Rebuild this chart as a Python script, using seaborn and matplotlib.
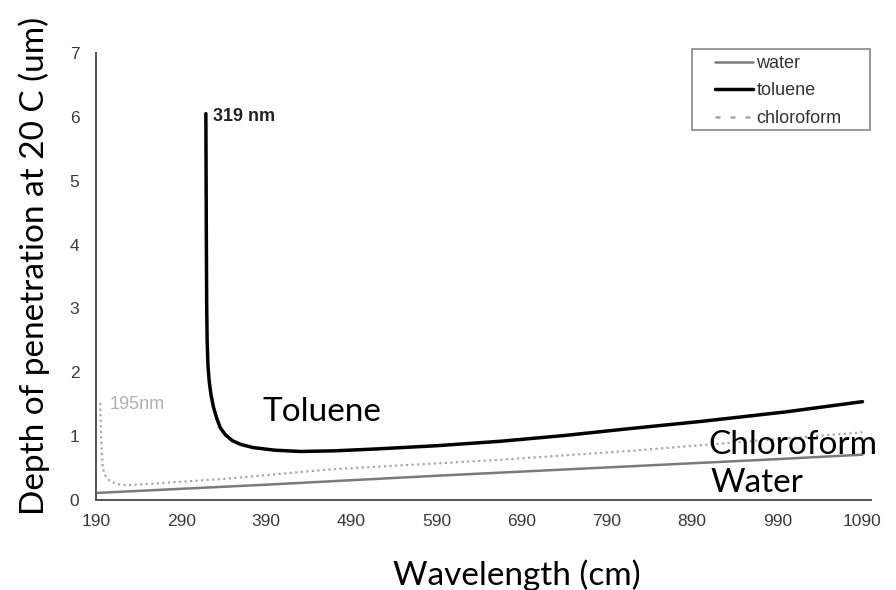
import matplotlib
matplotlib.use("Agg")
import matplotlib.pyplot as plt
import seaborn as sns
import pandas as pd
from matplotlib.patches import Rectangle
from matplotlib.lines import Line2D

# ---- data ----
water_x = [190, 390, 590, 790, 990, 1090]
water_y = [0.11, 0.24, 0.38, 0.51, 0.64, 0.71]

toluene_x = [319, 319.3, 319.6, 320, 320.5, 321.5, 323, 325, 328, 332, 336, 342,
             350, 360, 375, 400, 430, 470, 520, 590, 665, 740, 818, 900, 1000, 1090]
toluene_y = [6.05, 5.0, 4.0, 3.0, 2.5, 2.1, 1.85, 1.65, 1.45, 1.27, 1.13, 1.02,
             0.93, 0.87, 0.82, 0.78, 0.76, 0.77, 0.80, 0.85, 0.92, 1.01, 1.12,
             1.23, 1.38, 1.54]

chloro_x = [195, 196, 197, 198, 201, 206, 215, 225, 260, 340, 465, 665, 818, 1090]
chloro_y = [1.52, 1.0, 0.7, 0.5, 0.38, 0.3, 0.25, 0.23, 0.26, 0.33, 0.48, 0.63, 0.77, 1.06]

x_ticks = [190, 290, 390, 490, 590, 690, 790, 890, 990, 1090]
y_ticks = [0, 1, 2, 3, 4, 5, 6, 7]
series_names = ["water", "toluene", "chloroform"]

W, H = 896, 590
sns.set_theme(style="white")
plt.rcParams["font.family"] = ["Liberation Sans", "DejaVu Sans"]

fig = plt.figure(figsize=(W / 100, H / 100), dpi=100)
fig.patch.set_facecolor("white")
ax = fig.add_axes([96 / W, 1 - 500 / H, (871 - 96) / W, (500 - 53) / H])

df_w = pd.DataFrame({"x": water_x, "y": water_y})
df_t = pd.DataFrame({"x": toluene_x, "y": toluene_y})
df_c = pd.DataFrame({"x": chloro_x, "y": chloro_y})

sns.lineplot(data=df_w, x="x", y="y", ax=ax, color="#7a7a7a", lw=1.8, sort=False)
sns.lineplot(data=df_t, x="x", y="y", ax=ax, color="black", lw=2.5, sort=False)
sns.lineplot(data=df_c, x="x", y="y", ax=ax, color="#a8a8a8", lw=1.6,
             linestyle=(0, (1, 1.5)), sort=False)

ax.set_xlim(190, 1100)
ax.set_ylim(0, 7)
ax.set_xticks(x_ticks)
ax.set_yticks(y_ticks)
ax.set_xlabel("")
ax.set_ylabel("")
for s in ["top", "right"]:
    ax.spines[s].set_visible(False)
for s in ["left", "bottom"]:
    ax.spines[s].set_color("#555555")
    ax.spines[s].set_linewidth(1.4)
ax.tick_params(axis="both", direction="out", length=4, width=1.2, color="#777777",
               labelsize=12.5, labelcolor="#3a3a3a", pad=6)
ax.tick_params(axis="y", pad=8)

# annotations
ax.text(327.5, 6.0, "319 nm", fontsize=13, fontweight="bold", color="#222222",
        ha="left", va="center")
ax.text(206, 1.49, "195nm", fontsize=13, color="#b0b0b0", ha="left", va="center")

big = dict(family=["Lato", "DejaVu Sans"], fontsize=24, color="black")
ax.text(385, 1.38, "Toluene", ha="left", va="center", **big)
ax.text(909, 0.86, "Chloroform", ha="left", va="center", **big)
ax.text(911, 0.27, "Water", ha="left", va="center", **big)

fig.text(517 / W, 1 - 585 / H, "Wavelength (cm)", ha="center", va="baseline", **big)
fig.text(34 / W, 1 - 266 / H, "Depth of penetration at 20 C (um)", rotation=90,
         ha="center", va="center", **big)

# legend
fig.patches.append(Rectangle((692 / W, 1 - 130 / H), (870 - 692) / W, (130 - 49) / H,
                             transform=fig.transFigure, facecolor="white",
                             edgecolor="#888888", lw=1.2, zorder=5))
handles = [Line2D([], [], color="#7a7a7a", lw=1.8),
           Line2D([], [], color="black", lw=2.5),
           Line2D([], [], color="#a8a8a8", lw=1.8, linestyle=(0, (2, 4)))]
leg = fig.legend(handles, series_names, loc="upper left",
                 bbox_to_anchor=(715 / W, 1 - 55 / H), frameon=False,
                 fontsize=13, handlelength=2.1, handletextpad=0.2,
                 labelspacing=0.58, borderpad=0, borderaxespad=0)
leg.set_zorder(6)
for t in leg.get_texts():
    t.set_color("#333333")

fig.savefig("out.png", dpi=100, facecolor="white")
